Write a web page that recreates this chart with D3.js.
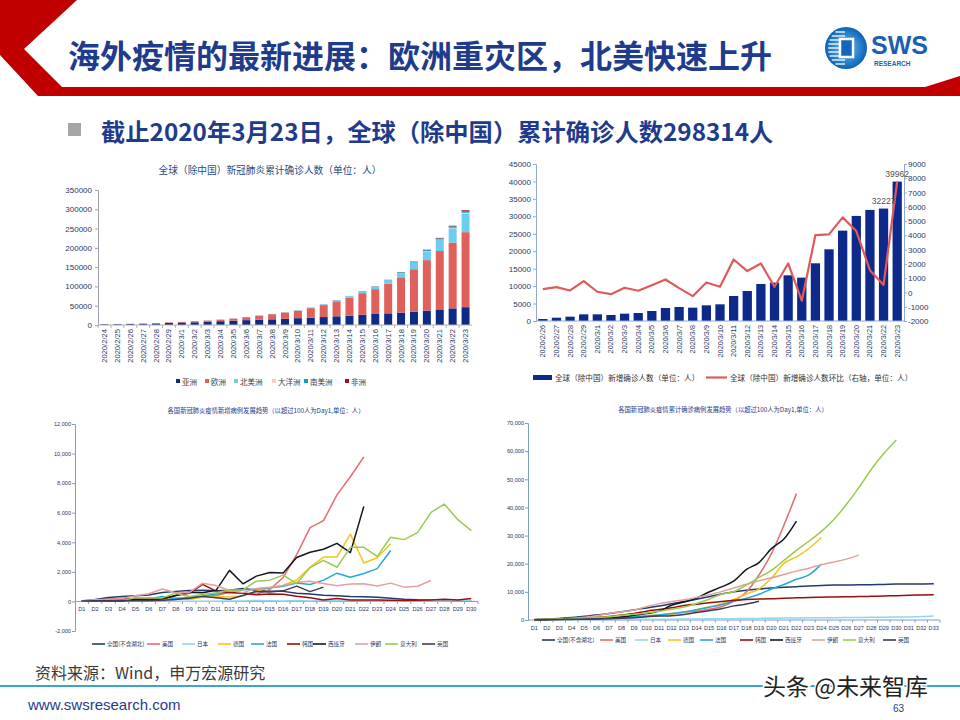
<!DOCTYPE html>
<html><head><meta charset="utf-8">
<script src="https://cdn.jsdelivr.net/npm/d3@7"></script>
<style>
body{margin:0;background:#fff}
svg text{font-family:"Liberation Sans",Arial,"Noto Sans CJK SC",sans-serif}
.cjk{font-family:"Noto Sans CJK SC","Liberation Sans",sans-serif !important}
</style>
</head><body>
<svg id="c" width="960" height="720"></svg>
<script>
// ---------------- DATA ----------------
const pageTitle = '海外疫情的最新进展：欧洲重灾区，北美快速上升';
const subTitle = '截止2020年3月23日，全球（除中国）累计确诊人数298314人';

// Chart 1: cumulative confirmed by continent
const cumTitle = '全球（除中国）新冠肺炎累计确诊人数（单位：人）';
const cumDates = ['2020/2/24','2020/2/25','2020/2/26','2020/2/27','2020/2/28','2020/2/29','2020/3/1','2020/3/2','2020/3/3','2020/3/4','2020/3/5','2020/3/6','2020/3/7','2020/3/8','2020/3/9','2020/3/10','2020/3/11','2020/3/12','2020/3/13','2020/3/14','2020/3/15','2020/3/16','2020/3/17','2020/3/18','2020/3/19','2020/3/20','2020/3/21','2020/3/22','2020/3/23'];
const continents = ['亚洲','欧洲','北美洲','大洋洲','南美洲','非洲'];
const asia     = [1900,2150,2600,3100,3900,5200,6300,7100,8400,9800,11000,12600,13700,14700,16000,17700,19000,20600,22500,24100,26500,28500,30200,32100,34600,37200,40400,43100,46200];
const europe   = [300,430,560,750,1000,1400,1950,2600,3300,4200,5700,7700,10500,13300,16300,19300,24700,31000,39000,47000,56000,64500,77000,91500,110000,131000,151500,170500,194500];
const namerica = [70,70,75,80,85,95,110,130,170,220,290,380,500,620,730,1100,1400,1900,2600,3300,4300,5900,7800,11000,16500,22500,28500,37000,48500];
const oceania  = [20,20,25,25,25,30,30,35,40,45,60,65,75,80,80,100,130,150,210,250,300,370,450,570,720,920,1150,1500,1900];
const samerica = [0,0,1,1,1,2,2,3,4,8,12,25,40,60,80,100,130,180,300,480,700,900,1200,1600,2000,2500,3100,3800,4600];
const africa   = [2,2,2,2,3,4,6,6,8,10,20,25,30,40,50,65,100,110,150,200,280,350,450,600,750,1000,1200,1500,1800];
const cumTicks = [0,50000,100000,150000,200000,250000,300000,350000];

// Chart 2: daily new cases and day-over-day change
const newDates = ['2020/2/26','2020/2/27','2020/2/28','2020/2/29','2020/3/1','2020/3/2','2020/3/3','2020/3/4','2020/3/5','2020/3/6','2020/3/7','2020/3/8','2020/3/9','2020/3/10','2020/3/11','2020/3/12','2020/3/13','2020/3/14','2020/3/15','2020/3/16','2020/3/17','2020/3/18','2020/3/19','2020/3/20','2020/3/21','2020/3/22','2020/3/23'];
const newCases  = [570,950,1240,1910,1910,1720,2100,2290,2870,3730,4010,3820,4490,4780,7170,8600,10610,11000,13100,12430,16540,20550,25900,30110,31840,32227,39962];
const newChange = [230,370,140,800,50,-120,330,120,510,910,300,-260,700,400,2310,1500,2030,400,2030,-580,4020,4070,5260,4300,1560,530,7760];
const newLeftTicks  = [0,5000,10000,15000,20000,25000,30000,35000,40000,45000];
const newRightTicks = [-2000,-1000,0,1000,2000,3000,4000,5000,6000,7000,8000,9000];
const newLegend = ['全球（除中国）新增确诊人数（单位：人）','全球（除中国）新增确诊人数环比（右轴，单位：人）'];
const labelledDates = ['2020/3/22','2020/3/23'];

// Country series (shared legend)
const countries = ['全国(不含湖北)','美国','日本','德国','法国','韩国','西班牙','伊朗','意大利','英国'];

// Chart 3: daily new cases by country (Day1 = >100 cases)
const dailyTitle = '各国新冠肺炎疫情新增病例发展趋势（以超过100人为Day1,单位：人）';
const days30 = ['D1','D2','D3','D4','D5','D6','D7','D8','D9','D10','D11','D12','D13','D14','D15','D16','D17','D18','D19','D20','D21','D22','D23','D24','D25','D26','D27','D28','D29','D30'];
const dailyTicks = [-2000,0,2000,4000,6000,8000,10000,12000];
const chinaNew   = [30,130,270,330,380,430,600,680,740,760,720,760,870,760,700,680,560,500,420,380,330,320,290,220,150,110,100,70,60,40];
const usNew      = [20,24,30,60,60,110,106,123,290,320,400,620,580,480,810,1620,3170,4990,5460,7210,8430,9780];
const japanNew   = [10,25,15,20,30,20,25,20,15,15,15,35,30,60,45,35,55,25,55,50,55,40,65,35,15,45,40,35,55,40];
const germanyNew = [30,40,60,50,120,200,150,260,130,280,330,300,380,700,900,1100,1450,2300,3000,3000,4550,2600,2950,3900];
const franceNew  = [30,60,20,70,140,190,330,180,290,370,500,600,790,840,920,1030,1250,1150,1440,1910,1640,1890,2220,3440];
const koreaNew   = [20,60,150,200,180,200,180,400,550,1150,700,600,550,450,500,480,350,250,100,200,100,100,90,80,70,80,90,150,90,200];
const spainNew   = [50,45,57,37,141,100,173,400,622,582,750,2100,1190,1710,1950,1930,2970,3330,3530,3930,3300,6430];
const iranNew    = [44,106,143,205,385,523,835,586,591,1234,1076,743,595,881,958,1075,1289,1365,1209,1053,1178,1192,1046,1237,966,1028,1411];
const italyNew   = [20,80,90,80,250,240,240,560,340,470,590,770,780,1370,1440,1780,1210,2290,2780,2310,3660,3660,3050,4340,4180,4650,6020,6580,5530,4790];
const ukNew      = [30,48,43,67,48,52,83,134,208,342,251,152,407,676,643,714,1035,665,967];

// Chart 4: cumulative cases by country
const totalTitle = '各国新冠肺炎疫情累计确诊病例发展趋势（以超过100人为Day1,单位：人）';
const days33 = ['D1','D2','D3','D4','D5','D6','D7','D8','D9','D10','D11','D12','D13','D14','D15','D16','D17','D18','D19','D20','D21','D22','D23','D24','D25','D26','D27','D28','D29','D30','D31','D32','D33'];
const totalTicks = [0,10000,20000,30000,40000,50000,60000,70000];
const chinaTot   = [130,300,550,850,1300,1750,2300,2900,3600,4300,5000,5800,6600,7400,8300,9200,10000,10600,11000,11350,11600,11850,12100,12300,12400,12450,12500,12550,12650,12800,12800,12800,12850];
const usTot      = [100,124,158,221,319,435,541,704,994,1301,1630,2183,2726,3100,3800,4700,6700,10000,16000,23600,33700,44900];
const japanTot   = [105,132,144,156,164,186,210,230,239,254,268,284,317,349,408,455,488,514,568,620,675,716,780,814,829,873,914,950,1007,1046,1100,1200,1400];
const germanyTot = [130,159,196,262,482,670,799,1040,1176,1457,1908,2078,2745,3675,4585,5795,7272,9257,11000,14800,20100,22400,25400,29300];
const franceTot  = [100,130,191,212,285,423,613,949,1126,1412,1784,2281,2876,3661,4499,5423,6633,7730,9134,10995,12612,14459,16018,19856];
const koreaTot   = [104,204,433,602,833,977,1261,1766,2337,3150,3736,4335,5186,5621,6088,6593,7041,7313,7478,7513,7755,7869,7979,8086,8162,8236,8320,8413,8565,8652,8799,8897,8961];
const spainTot   = [120,165,222,259,400,500,673,1073,1695,2277,3146,5232,6391,7798,9942,11748,13910,17963,20410,25374,28768,35136];
const iranTot    = [139,245,388,593,978,1501,2336,2922,3513,4747,5823,6566,7161,8042,9000,10075,11364,12729,13938,14991,16169,17361,18407,19644,20610,21638,23049];
const italyTot   = [155,229,322,453,655,888,1128,1694,2036,2502,3089,3858,4636,5883,7375,9172,10149,12462,15113,17660,21157,24747,27980,31506,35713,41035,47021,53578,59138,63927];
const ukTot      = [115,163,206,273,321,373,456,590,798,1140,1391,1543,1950,2626,3269,3983,5018,5683,6650];

const sourceText = '资料来源：Wind，申万宏源研究';
const siteText = 'www.swsresearch.com';
const pageNo = '63';
const watermark = '头条 @未来智库';

// ---------------- STYLE ----------------
const NAVY = '#1f3c8c';
const TXT = '#1f3864';
const contColors = ['#0d2b85','#e0605c','#6dcdf0','#f6cccc','#0aa2cc','#a31010'];
const countryColors = ['#1f3b70','#e46c6c','#92d5ef','#f5c518','#26a6dc','#9b0d0d','#101820','#e3a09e','#9acb4f','#3f3a55'];

const svg = d3.select('#c');
svg.append('rect').attr('width',960).attr('height',720).attr('fill','#fff');

// ---------------- HEADER ----------------
svg.append('path').attr('d','M0,0 L77,0 L24,49 L62,87 L925,87 L960,76 L960,96 L38,96 L0,55 Z').attr('fill','#c00000');
svg.append('text').attr('class','cjk').attr('x',68).attr('y',54).attr('dominant-baseline','central')
  .attr('font-size',32).attr('font-weight','bold').attr('fill',NAVY).text(pageTitle);

// logo
const defs = svg.append('defs');
const rg = defs.append('radialGradient').attr('id','lg');
rg.append('stop').attr('offset','0%').attr('stop-color','#6cc4f4');
rg.append('stop').attr('offset','100%').attr('stop-color','#0b62b6');
const logo = svg.append('g').attr('transform','translate(846,48)');
logo.append('circle').attr('r',21).attr('fill','url(#lg)');
[-16,-12,-8,-4,0,4,8,12,16].forEach(yy=>{
  const hw = Math.sqrt(Math.max(0,21*21-yy*yy));
  logo.append('rect').attr('x',-hw+3).attr('y',yy-0.8).attr('width',hw-4).attr('height',1.6).attr('fill','#fff').attr('opacity',0.8);
});
logo.append('rect').attr('x',-6).attr('y',-9).attr('width',13).attr('height',18).attr('fill','#1565c0').attr('stroke','#fff').attr('stroke-width',2.5);
svg.append('text').attr('x',871).attr('y',54).attr('font-size',25).attr('font-weight','bold').attr('fill','#1a5fb4').text('SWS');
svg.append('text').attr('x',874).attr('y',66).attr('font-size',6.5).attr('font-weight','bold').attr('fill','#1a5fb4').text('RESEARCH');

// subtitle
svg.append('rect').attr('x',68).attr('y',123).attr('width',13).attr('height',13).attr('fill','#a6a6a6');
svg.append('text').attr('class','cjk').attr('x',101).attr('y',130).attr('dominant-baseline','central')
  .attr('font-size',24.3).attr('font-weight','bold').attr('fill',NAVY).text(subTitle);

// ---------------- CHART 1 ----------------
(function(){
  const g = svg.append('g');
  const x = d3.scaleBand().domain(cumDates).range([98,472]).paddingInner(0.38).paddingOuter(0.19);
  const y = d3.scaleLinear().domain([0,350000]).range([325,190]);
  const seriesArr = [asia,europe,namerica,oceania,samerica,africa];
  const rows = cumDates.map((d,i)=>{const r={date:d}; continents.forEach((c,k)=>r[c]=seriesArr[k][i]); return r;});
  const stacked = d3.stack().keys(continents)(rows);
  g.selectAll('g.s').data(stacked).join('g').attr('fill',(d,i)=>contColors[i])
    .selectAll('rect').data(d=>d).join('rect')
    .attr('x',d=>x(d.data.date)).attr('width',x.bandwidth())
    .attr('y',d=>y(d[1])).attr('height',d=>Math.max(0,y(d[0])-y(d[1])));
  const ya = g.append('g').attr('transform','translate(98,0)')
    .call(d3.axisLeft(y).tickValues(cumTicks).tickFormat(d3.format('d')).tickSize(3));
  ya.select('.domain').attr('stroke','#9a9fb5');
  ya.selectAll('.tick line').attr('stroke','#9a9fb5');
  ya.selectAll('text').attr('font-size',8).attr('fill',TXT).attr('x',-6);
  g.append('line').attr('x1',98).attr('x2',472).attr('y1',325).attr('y2',325).attr('stroke','#b0b0b0');
  cumDates.forEach((d,i)=>{
    const xx = x(d) - x.step()*x.paddingInner()/2;
    g.append('line').attr('x1',xx).attr('x2',xx).attr('y1',325).attr('y2',328).attr('stroke','#b0b0b0');
  });
  g.selectAll('text.xl').data(cumDates).join('text').attr('class','xl')
    .attr('transform',d=>`translate(${x(d)+x.bandwidth()/2},329) rotate(-90)`)
    .attr('text-anchor','end').attr('dominant-baseline','central')
    .attr('font-size',7.6).attr('fill',TXT).text(d=>d);
  g.append('text').attr('class','cjk').attr('x',270).attr('y',170).attr('text-anchor','middle').attr('dominant-baseline','central')
    .attr('font-size',9.7).attr('fill','#2b4a7e').text(cumTitle);
  const lx = [176,205,234,272,304,345];
  continents.forEach((c,i)=>{
    g.append('rect').attr('x',lx[i]).attr('y',379).attr('width',4).attr('height',4).attr('fill',contColors[i]);
    g.append('text').attr('class','cjk').attr('x',lx[i]+6).attr('y',381).attr('dominant-baseline','central')
      .attr('font-size',7.5).attr('fill','#404040').text(c);
  });
})();

// ---------------- CHART 2 ----------------
(function(){
  const g = svg.append('g');
  const x = d3.scaleBand().domain(newDates).range([536,904]).paddingInner(0.32).paddingOuter(0.16);
  const yL = d3.scaleLinear().domain([0,45000]).range([321,164]);
  const yR = d3.scaleLinear().domain([-2000,9000]).range([321,164]);
  g.selectAll('rect.b').data(newDates).join('rect').attr('class','b')
    .attr('x',d=>x(d)).attr('width',x.bandwidth())
    .attr('y',(d,i)=>yL(newCases[i])).attr('height',(d,i)=>yL(0)-yL(newCases[i]))
    .attr('fill','#0d2a8a');
  const axL = g.append('g').attr('transform','translate(536,0)')
    .call(d3.axisLeft(yL).tickValues(newLeftTicks).tickFormat(d3.format('d')).tickSize(3));
  const axR = g.append('g').attr('transform','translate(904,0)')
    .call(d3.axisRight(yR).tickValues(newRightTicks).tickFormat(d=>(d<0?'-':'')+Math.abs(d)).tickSize(3));
  [axL,axR].forEach(a=>{
    a.select('.domain').attr('stroke','#8faadc');
    a.selectAll('.tick line').attr('stroke','#8faadc');
    a.selectAll('text').attr('font-size',8).attr('fill',TXT);
  });
  axL.selectAll('text').attr('x',-5);
  axR.selectAll('text').attr('x',4);
  g.append('line').attr('x1',536).attr('x2',904).attr('y1',321).attr('y2',321).attr('stroke','#8faadc');
  g.selectAll('text.xl').data(newDates).join('text').attr('class','xl')
    .attr('transform',d=>`translate(${x(d)+x.bandwidth()/2},325) rotate(-90)`)
    .attr('text-anchor','end').attr('dominant-baseline','central')
    .attr('font-size',7.3).attr('fill',TXT).text(d=>d);
  const line = d3.line().x((d,i)=>x(newDates[i])+x.bandwidth()/2).y(d=>yR(d));
  g.append('path').datum(newChange).attr('d',line).attr('fill','none').attr('stroke','#e05a5a').attr('stroke-width',2.2).attr('stroke-linejoin','round');
  labelledDates.forEach(d=>{
    const i = newDates.indexOf(d);
    g.append('text').attr('x',x(d)+x.bandwidth()/2).attr('y',yL(newCases[i])-5).attr('text-anchor','middle')
      .attr('font-size',8.5).attr('fill','#505050').text(newCases[i]);
  });
  g.append('rect').attr('x',533).attr('y',375).attr('width',19).attr('height',5).attr('fill','#0d2a8a');
  g.append('text').attr('class','cjk').attr('x',555).attr('y',377.5).attr('dominant-baseline','central').attr('font-size',7.6).attr('fill','#333').text(newLegend[0]);
  g.append('line').attr('x1',706).attr('x2',727).attr('y1',377.5).attr('y2',377.5).attr('stroke','#e05a5a').attr('stroke-width',2.2);
  g.append('text').attr('class','cjk').attr('x',730).attr('y',377.5).attr('dominant-baseline','central').attr('font-size',7.6).attr('fill','#333').text(newLegend[1]);
})();

// ---------------- helper for line charts ----------------
function lineChart(opt){
  const g = svg.append('g');
  const x = d3.scalePoint().domain(opt.days).range([opt.x0,opt.x1]).padding(0.5);
  const y = d3.scaleLinear().domain(opt.domain).range([opt.yb,opt.yt]);
  const fmt = v => (v<0?'-':'') + d3.format(',')(Math.abs(v));
  const ax = g.append('g').attr('transform',`translate(${opt.x0},0)`)
    .call(d3.axisLeft(y).tickValues(opt.ticks).tickFormat(fmt).tickSize(3));
  ax.select('.domain').attr('stroke','#7f9cc8');
  ax.selectAll('.tick line').attr('stroke','#7f9cc8');
  ax.selectAll('text').attr('font-size',5.6).attr('fill',TXT).attr('x',-4);
  const y0 = y(0);
  g.append('line').attr('x1',opt.x0).attr('x2',opt.x1).attr('y1',y0).attr('y2',y0).attr('stroke','#7f9cc8');
  const step = x.step();
  opt.days.forEach((d,i)=>{
    const xx = x(d)+step/2;
    g.append('line').attr('x1',xx).attr('x2',xx).attr('y1',y0).attr('y2',y0+2.5).attr('stroke','#7f9cc8');
  });
  g.selectAll('text.xl').data(opt.days).join('text').attr('class','xl')
    .attr('x',d=>x(d)).attr('y',opt.labelY).attr('text-anchor','middle').attr('dominant-baseline','central')
    .attr('font-size',5.6).attr('fill',TXT).text(d=>d);
  const line = d3.line().x((d,i)=>x(opt.days[i])).y(d=>y(d)).curve(opt.curve);
  opt.series.forEach((s,k)=>{
    g.append('path').datum(s).attr('d',line).attr('fill','none').attr('stroke',countryColors[k])
      .attr('stroke-width',1.5).attr('stroke-linejoin','round');
  });
  g.append('text').attr('class','cjk').attr('x',opt.titleX).attr('y',opt.titleY).attr('text-anchor','middle').attr('dominant-baseline','central')
    .attr('font-size',6.3).attr('fill','#1f3a8a').text(opt.title);
  countries.forEach((c,k)=>{
    const lx = opt.legendX[k];
    g.append('line').attr('x1',lx).attr('x2',lx+13).attr('y1',opt.legendY).attr('y2',opt.legendY).attr('stroke',countryColors[k]).attr('stroke-width',1.6);
    g.append('text').attr('class','cjk').attr('x',lx+15).attr('y',opt.legendY).attr('dominant-baseline','central')
      .attr('font-size',5.6).attr('fill',TXT).text(c);
  });
}

lineChart({days:days30, x0:75, x1:478, yb:631, yt:424, domain:[-2000,12000], ticks:dailyTicks,
  labelY:609, curve:d3.curveLinear, title:dailyTitle, titleX:266, titleY:410,
  series:[chinaNew,usNew,japanNew,germanyNew,franceNew,koreaNew,spainNew,iranNew,italyNew,ukNew],
  legendX:[92,147,182,218,251,287,313,355,385,422], legendY:644});

lineChart({days:days33, x0:528, x1:940, yb:620, yt:423, domain:[0,70000], ticks:totalTicks,
  labelY:628, curve:d3.curveMonotoneX, title:totalTitle, titleX:723, titleY:409,
  series:[chinaTot,usTot,japanTot,germanyTot,franceTot,koreaTot,spainTot,iranTot,italyTot,ukTot],
  legendX:[542,600,635,668,700,740,770,812,843,883], legendY:640});

// ---------------- FOOTER ----------------
svg.append('text').attr('class','cjk').attr('x',35).attr('y',672).attr('dominant-baseline','central').attr('font-size',16).attr('fill','#3a3a3a').text(sourceText);
svg.append('line').attr('x1',0).attr('x2',960).attr('y1',686).attr('y2',686).attr('stroke','#3aa6c8').attr('stroke-width',2);
svg.append('text').attr('x',28).attr('y',704).attr('dominant-baseline','central').attr('font-size',15).attr('fill',NAVY).text(siteText);
svg.append('text').attr('x',893).attr('y',708).attr('dominant-baseline','central').attr('font-size',10).attr('fill',NAVY).text(pageNo);
svg.append('text').attr('class','cjk').attr('x',763).attr('y',685).attr('dominant-baseline','central').attr('font-size',23)
  .attr('fill','#222').attr('stroke','#fff').attr('stroke-width',3).attr('paint-order','stroke').text(watermark);
</script>
</body></html>
